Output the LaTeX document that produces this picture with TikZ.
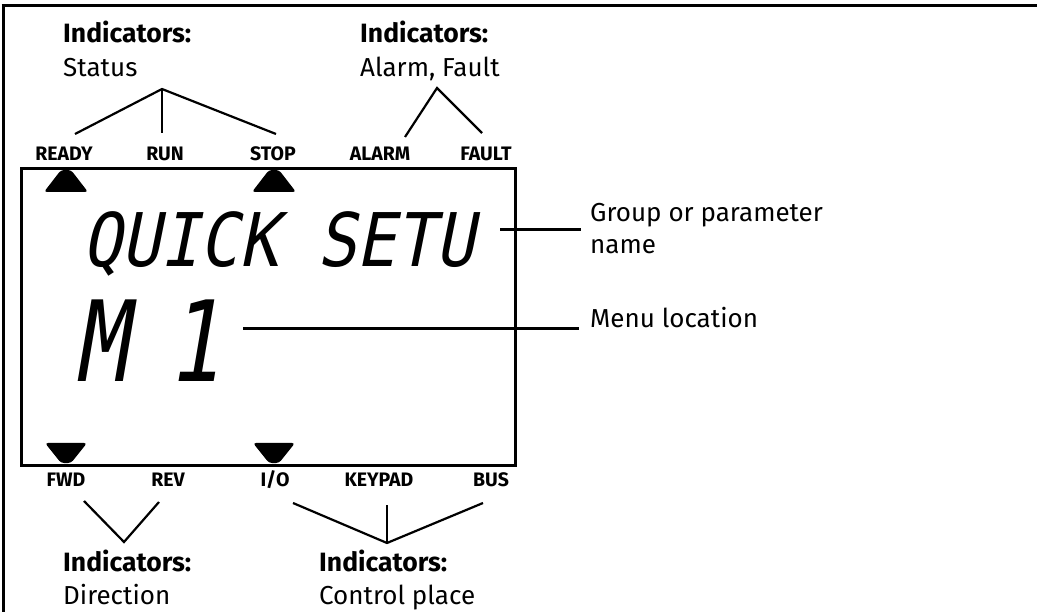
\documentclass[tikz,border=0pt]{standalone}
\usepackage{fontspec}
\setmainfont{Fira Sans}
\newfontfamily\lcdfont[FakeSlant=0.2,FakeStretch=0.88]{DejaVu Sans Mono}
\newfontfamily\lcdbig[FakeSlant=0.17,FakeStretch=0.78]{DejaVu Sans Mono}
\begin{document}
\begin{tikzpicture}[x=1pt,y=-1pt,
  conn/.style={line width=2.2pt},
  lbl/.style={font=\fontsize{26}{30}\selectfont, inner sep=0pt, anchor=base west},
  hdr/.style={lbl, font=\fontsize{26.5}{30}\selectfont\bfseries},
  ind/.style={font=\fontsize{19.5}{20}\selectfont\bfseries, inner sep=0pt, anchor=base},
  tri/.style={fill=black, rounded corners=3pt}]
\useasboundingbox (0,0) rectangle (1037,612);
% outer frame (top and left)
\draw[line width=3pt] (1.5,6) -- (1037,6);
\draw[line width=3pt] (3.5,4.5) -- (3.5,612);
% LCD box
\node[draw, line width=2.6pt, minimum width=494pt, minimum height=297pt, inner sep=0pt, anchor=north west] (lcd) at (20,167) {};
% indicator triangles
\fill[tri] (44,192) -- (61,170) -- (71,170) -- (88,192) -- cycle;
\fill[tri] (252,192) -- (269,170) -- (279,170) -- (296,192) -- cycle;
\fill[tri] (45,443) -- (87,443) -- (71,463) -- (61,463) -- cycle;
\fill[tri] (253,443) -- (295,443) -- (279,463) -- (269,463) -- cycle;
% indicator labels
\node[ind] (ready) at (64,161) {READY};
\node[ind] (run) at (165,161) {RUN};
\node[ind] (stop) at (273,161) {STOP};
\node[ind] (alarm) at (380,161) {ALARM};
\node[ind] (fault) at (486,161) {FAULT};
\node[ind] (fwd) at (66,486) {FWD};
\node[ind] (rev) at (168,486) {REV};
\node[ind] (io) at (275,486) {I/O};
\node[ind] (keypad) at (379,486) {KEYPAD};
\node[ind] (bus) at (491,486) {BUS};
% captions
\node[hdr] (hstat) at (63,43) {Indicators:};
\node[lbl] (tstat) at (63,77) {Status};
\node[hdr] (halarm) at (360,43) {Indicators:};
\node[lbl] (talarm) at (360,77) {Alarm, Fault};
\node[hdr] (hdir) at (63,571) {Indicators:};
\node[lbl] (tdir) at (63,604) {Direction};
\node[hdr] (hctrl) at (319,571) {Indicators:};
\node[lbl] (tctrl) at (319,604) {Control place};
\node[lbl, anchor=north west, align=left, font=\fontsize{26}{32}\selectfont] (grp) at (590,203) {Group or parameter\\name};
\node[lbl] (menu) at (590,328) {Menu location};
% LCD text
\node[inner sep=0pt, anchor=base west, font=\lcdfont\fontsize{74}{74}\selectfont] (qs) at (82,267) {QUICK SETU};
\node[inner sep=0pt, anchor=base west, font=\lcdbig\fontsize{112}{112}\selectfont] (m1) at (74,382) {M\hspace{-12pt} 1};
% connector points
\coordinate (stA) at (162,89);
\coordinate (stR) at (75,134);
\coordinate (stU) at (162,133);
\coordinate (stS) at (276,134);
\coordinate (alA) at (437,88);
\coordinate (alL) at (405,137);
\coordinate (alF) at (482,133);
\coordinate (dirL) at (84,501);
\coordinate (dirA) at (124,542);
\coordinate (dirR) at (159,502);
\coordinate (ctL) at (293,503);
\coordinate (ctA) at (387,543);
\coordinate (ctU) at (387,505);
\coordinate (ctR) at (483,503);
\coordinate (qsE) at (500,229.5);
\coordinate (grpE) at (581,229.5);
\coordinate (m1E) at (243,328.5);
\coordinate (menuE) at (579,328.5);
% connectors
\draw[conn] (stR) -- (stA) -- (stS);
\draw[conn] (stA) -- (stU);
\draw[conn] (alL) -- (alA) -- (alF);
\draw[conn] (dirL) -- (dirA) -- (dirR);
\draw[conn] (ctL) -- (ctA) -- (ctR);
\draw[conn] (ctU) -- (ctA);
\draw[line width=2.5pt] (qsE) -- (grpE);
\draw[line width=2.5pt] (m1E) -- (menuE);
\end{tikzpicture}
\end{document}
